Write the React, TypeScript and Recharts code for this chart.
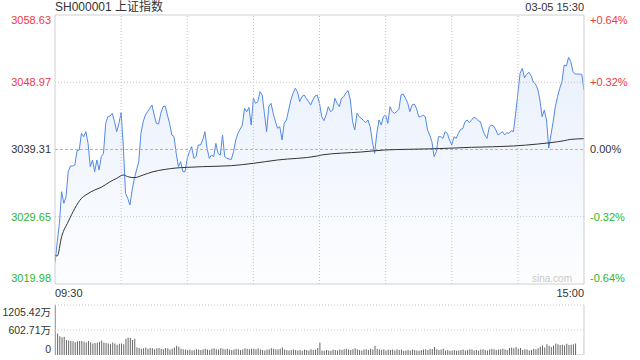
import {
  Area,
  Bar,
  ComposedChart,
  Line,
  ReferenceLine,
  XAxis,
  YAxis,
} from 'recharts';

// one price per minute, 09:30 (t=0) .. 15:00 (t=240), lunch break removed
const PRICES = [
  3023.05, 3026.0, 3028.7, 3033.25, 3031.57, 3032.53, 3036.12, 3036.93, 3036.93, 3037.08,
  3039.14, 3039.23, 3041.63, 3041.15, 3041.87, 3040.19, 3036.84, 3037.8, 3036.12, 3037.8,
  3036.36, 3038.28, 3038.75, 3043.06, 3044.02, 3044.12, 3044.5, 3043.3, 3041.87, 3043.06,
  3044.6, 3039.71, 3033.01, 3032.29, 3031.33, 3033.48, 3035.16, 3036.36, 3037.56, 3041.63,
  3043.3, 3044.26, 3044.74, 3045.22, 3045.7, 3044.26, 3043.06, 3042.97, 3044.5, 3045.46,
  3045.56, 3044.26, 3043.06, 3041.39, 3041.15, 3038.75, 3036.84, 3037.56, 3036.12, 3036.12,
  3038.04, 3038.99, 3039.71, 3038.04, 3038.28, 3039.95, 3039.95, 3040.67, 3041.87, 3039.47,
  3038.04, 3038.51, 3038.28, 3040.19, 3038.75, 3038.51, 3041.39, 3038.28, 3038.04, 3037.94,
  3037.89, 3039.0, 3040.67, 3041.63, 3042.21, 3042.83, 3045.22, 3044.74, 3045.36, 3042.83,
  3046.66, 3045.94, 3046.18, 3047.61, 3047.14, 3044.5, 3041.87, 3045.46, 3045.94, 3044.5,
  3043.31, 3042.35, 3042.59, 3040.67, 3043.07, 3043.55, 3044.98, 3046.42, 3047.38, 3048.1,
  3047.62, 3046.18, 3046.9, 3047.14, 3046.66, 3046.18, 3045.7, 3046.42, 3046.99, 3047.14,
  3045.94, 3044.03, 3043.45, 3044.26, 3045.46, 3044.74, 3044.98, 3046.66, 3045.94, 3045.46,
  3046.66, 3046.9, 3047.47, 3047.76, 3046.42, 3043.31, 3042.11, 3044.5, 3044.03, 3043.79,
  3043.45, 3043.16, 3043.55, 3042.59, 3040.43, 3038.76, 3041.63, 3043.55, 3042.83, 3044.03,
  3044.26, 3043.07, 3045.46, 3044.74, 3044.5, 3044.74, 3045.08, 3047.14, 3047.28, 3046.66,
  3046.0, 3044.74, 3045.7, 3045.84, 3045.22, 3044.02, 3044.02, 3044.26, 3044.02, 3042.11,
  3041.39, 3040.43, 3038.27, 3038.99, 3041.15, 3041.15, 3040.91, 3041.87, 3041.63, 3040.67,
  3039.95, 3041.15, 3040.91, 3041.63, 3042.2, 3042.3, 3043.3, 3043.54, 3043.16, 3043.54,
  3043.93, 3043.78, 3043.45, 3043.3, 3042.2, 3041.39, 3040.91, 3042.49, 3042.82, 3042.68,
  3042.11, 3041.39, 3041.63, 3041.87, 3041.39, 3041.72, 3041.63, 3042.01, 3041.87, 3044.5,
  3047.38, 3050.25, 3050.97, 3049.6, 3050.1, 3050.4, 3049.9, 3049.0, 3048.7, 3048.0,
  3046.42, 3044.02, 3044.98, 3043.54, 3039.5, 3041.39, 3043.3, 3045.46, 3046.9, 3048.09,
  3049.05, 3051.44, 3051.3, 3052.55, 3051.92, 3050.49, 3050.15, 3050.15, 3050.15, 3050.1,
  3047.85,
];

// average price line, read at these minutes
const AVG_MINUTES = [
  0, 1, 3, 6, 9, 12, 14, 18, 21, 25, 28, 31, 33, 36, 40, 44, 50, 55, 60, 67, 80, 90, 101, 119,
  121, 139, 150, 160, 173, 189, 208, 219, 225, 231, 234, 240,
];
const AVG_PRICES = [
  3024.15, 3024.0, 3026.78, 3028.93, 3030.85, 3032.29, 3032.77, 3033.49, 3033.87, 3034.68,
  3035.16, 3035.64, 3035.4, 3035.26, 3035.64, 3036.07, 3036.45, 3036.65, 3036.74, 3036.84,
  3036.98, 3037.32, 3037.8, 3038.37, 3038.52, 3038.95, 3039.24, 3039.33, 3039.42, 3039.62,
  3039.81, 3040.09, 3040.29, 3040.57, 3040.76, 3040.86,
];

// volume per minute, in 万
const VOLUMES = [
  1205, 520, 450, 430, 440, 360, 350, 335, 330, 310,
  330, 340, 335, 320, 300, 340, 310, 280, 290, 300,
  320, 350, 300, 290, 280, 260, 300, 280, 250, 270,
  280, 260, 390, 420, 410, 360, 390, 180, 170, 150,
  160, 180, 150, 170, 160, 140, 160, 170, 150, 140,
  170, 160, 130, 150, 180, 220, 200, 150, 140, 130,
  120, 130, 110, 120, 140, 130, 120, 140, 150, 130,
  120, 150, 160, 140, 130, 160, 150, 140, 150, 130,
  120, 130, 150, 140, 120, 130, 160, 150, 140, 150,
  150, 140, 160, 130, 120, 110, 130, 140, 160, 150,
  140, 130, 150, 180, 130, 120, 110, 120, 130, 120,
  110, 120, 100, 130, 120, 110, 140, 120, 130, 170,
  300, 110, 100, 120, 110, 105, 130, 120, 110, 130,
  120, 140, 150, 130, 120, 140, 160, 130, 120, 110,
  130, 140, 120, 150, 130, 220, 150, 130, 120, 140,
  110, 130, 120, 130, 110, 140, 120, 130, 100, 110,
  120, 110, 130, 120, 110, 100, 120, 130, 140, 120,
  150, 140, 190, 140, 120, 130, 150, 110, 120, 100,
  110, 120, 100, 110, 120, 130, 110, 120, 140, 130,
  110, 120, 100, 130, 140, 120, 110, 130, 150, 140,
  120, 130, 140, 150, 130, 120, 170, 180, 160, 190,
  150, 170, 120, 140, 130, 110, 120, 150, 140, 160,
  200, 230, 180, 260, 220, 190, 230, 280, 260, 240,
  250, 230, 270, 240, 250, 260, 280, 10, 10, 10,
  450,
];

const PRICE_TICKS = [3019.98, 3029.65, 3039.31, 3048.97, 3058.63];
const PCT_LABELS = ['-0.64%', '-0.32%', '0.00%', '+0.32%', '+0.64%'];
const GRID_MINUTES = [30, 60, 90, 120, 150, 180, 210];
const TIME_TICKS = [0, 240];
const TIME_LABELS = ['09:30', '15:00'];
const VOLUME_TICKS = [0, 602.71, 1205.42];
const VOLUME_LABELS = ['0', '602.71万', '1205.42万'];

const RED = '#f03b3b';
const GREEN = '#2fb52f';
const TEXT = '#333';
const BORDER = '#cfcfcf';
const GRID = '#c4c4c4';
const BLUE = '#5389e6';
const FONT = "'Liberation Sans', Arial, 'Noto Sans CJK SC', sans-serif";

const priceData = PRICES.map((p, t) => ({ t, p }));
const avgData = AVG_MINUTES.map((t, i) => ({ t, a: AVG_PRICES[i] }));
const volumeData = VOLUMES.map((v, t) => ({ t, v }));

function PriceTick({ x, y, payload, side }: any) {
  const i = PRICE_TICKS.indexOf(payload.value);
  const color = i < 2 ? GREEN : i > 2 ? RED : TEXT;
  const shift = i === 0 ? -6 : i === PRICE_TICKS.length - 1 ? 5 : 0;
  const label = side === 'left' ? payload.value.toFixed(2) : PCT_LABELS[i];
  return (
    <text
      x={x}
      y={y + shift}
      dy="0.35em"
      textAnchor={side === 'left' ? 'end' : 'start'}
      fill={color}
      fontSize={11}
    >
      {label}
    </text>
  );
}

function TimeTick({ x, y, payload }: any) {
  const i = TIME_TICKS.indexOf(payload.value);
  return (
    <text x={x} y={y} dy="0.71em" textAnchor={i === 0 ? 'start' : 'end'} fill={TEXT} fontSize={11}>
      {TIME_LABELS[i]}
    </text>
  );
}

function VolumeTick({ x, y, payload }: any) {
  const i = VOLUME_TICKS.indexOf(payload.value);
  const shift = i === 0 ? -6 : i === VOLUME_TICKS.length - 1 ? 7 : 0;
  return (
    <text x={x} y={y + shift} dy="0.35em" textAnchor="end" fill={TEXT} fontSize={10.5}>
      {VOLUME_LABELS[i]}
    </text>
  );
}

export default function App() {
  return (
    <div
      style={{
        position: 'absolute',
        left: 0,
        top: 0,
        width: 640,
        height: 360,
        background: '#fff',
        fontFamily: FONT,
        color: TEXT,
      }}
    >
      <div style={{ position: 'absolute', left: 55, top: 0, fontSize: 12, lineHeight: '15px' }}>
        SH000001 上证指数
      </div>
      <div style={{ position: 'absolute', right: 56, top: 0, fontSize: 11, lineHeight: '15px' }}>
        03-05 15:30
      </div>

      <div style={{ position: 'absolute', left: 0, top: 0 }}>
        <ComposedChart width={640} height={300} margin={{ top: 15, right: 0, bottom: 0, left: 0 }}>
          <defs>
            <linearGradient id="priceFill" x1="0" y1="0" x2="0" y2="1">
              <stop offset="0%" stopColor="#4a86e8" stopOpacity={0.2} />
              <stop offset="100%" stopColor="#4a86e8" stopOpacity={0.02} />
            </linearGradient>
          </defs>
          <XAxis
            dataKey="t"
            type="number"
            domain={[0, 240]}
            ticks={TIME_TICKS}
            interval={0}
            height={16}
            axisLine={{ stroke: BORDER }}
            tickLine={false}
            tickSize={3}
            tick={(props: any) => <TimeTick {...props} />}
            allowDataOverflow
          />
          <YAxis
            yAxisId="price"
            width={55}
            type="number"
            domain={[PRICE_TICKS[0], PRICE_TICKS[4]]}
            ticks={PRICE_TICKS}
            interval={0}
            axisLine={{ stroke: BORDER }}
            tickLine={false}
            tickSize={2}
            tick={(props: any) => <PriceTick {...props} side="left" />}
            allowDataOverflow
          />
          <YAxis
            yAxisId="pct"
            orientation="right"
            width={56}
            type="number"
            domain={[PRICE_TICKS[0], PRICE_TICKS[4]]}
            ticks={PRICE_TICKS}
            interval={0}
            axisLine={{ stroke: BORDER }}
            tickLine={false}
            tickSize={4}
            tick={(props: any) => <PriceTick {...props} side="right" />}
            allowDataOverflow
          />
          {GRID_MINUTES.map((t) => (
            <ReferenceLine key={t} yAxisId="price" x={t} stroke={GRID} strokeDasharray="1 2" />
          ))}
          <ReferenceLine yAxisId="price" y={PRICE_TICKS[1]} stroke={GRID} strokeDasharray="1 2" />
          <ReferenceLine yAxisId="price" y={PRICE_TICKS[3]} stroke={GRID} strokeDasharray="1 2" />
          <ReferenceLine yAxisId="price" y={PRICE_TICKS[4]} stroke={BORDER} />
          <ReferenceLine yAxisId="price" y={PRICE_TICKS[2]} stroke="#f0a07c" strokeDasharray="3 2" />
          <Area
            yAxisId="price"
            data={priceData}
            dataKey="p"
            type="linear"
            stroke={BLUE}
            strokeWidth={1}
            fill="url(#priceFill)"
            baseValue="dataMin"
            dot={false}
            activeDot={false}
            isAnimationActive={false}
          />
          <Line
            yAxisId="price"
            data={avgData}
            dataKey="a"
            type="monotone"
            stroke="#333"
            strokeWidth={1}
            dot={false}
            activeDot={false}
            isAnimationActive={false}
          />
        </ComposedChart>
      </div>

      <div
        style={{
          position: 'absolute',
          left: 532,
          top: 273,
          fontSize: 10,
          lineHeight: '12px',
          color: '#c9c9c9',
        }}
      >
        sina.com
      </div>

      <div style={{ position: 'absolute', left: 0, top: 300 }}>
        <ComposedChart
          width={640}
          height={60}
          data={volumeData}
          margin={{ top: 5, right: 0, bottom: 5, left: 0 }}
        >
          <XAxis dataKey="t" type="number" domain={[0, 240]} hide allowDataOverflow />
          <YAxis
            yAxisId="vol"
            width={55}
            type="number"
            domain={[0, VOLUME_TICKS[2]]}
            ticks={VOLUME_TICKS}
            interval={0}
            axisLine={{ stroke: BORDER }}
            tickLine={false}
            tickSize={2}
            tick={(props: any) => <VolumeTick {...props} />}
            allowDataOverflow
          />
          <YAxis yAxisId="volR" orientation="right" width={56} tick={false} axisLine={{ stroke: BORDER }} tickLine={false} />
          <ReferenceLine yAxisId="vol" y={VOLUME_TICKS[2]} stroke={GRID} strokeDasharray="1 2" />
          <ReferenceLine yAxisId="vol" y={VOLUME_TICKS[1]} stroke={GRID} strokeDasharray="1 2" />
          <Bar yAxisId="vol" dataKey="v" fill="#666" barSize={1} isAnimationActive={false} />
        </ComposedChart>
      </div>
    </div>
  );
}
